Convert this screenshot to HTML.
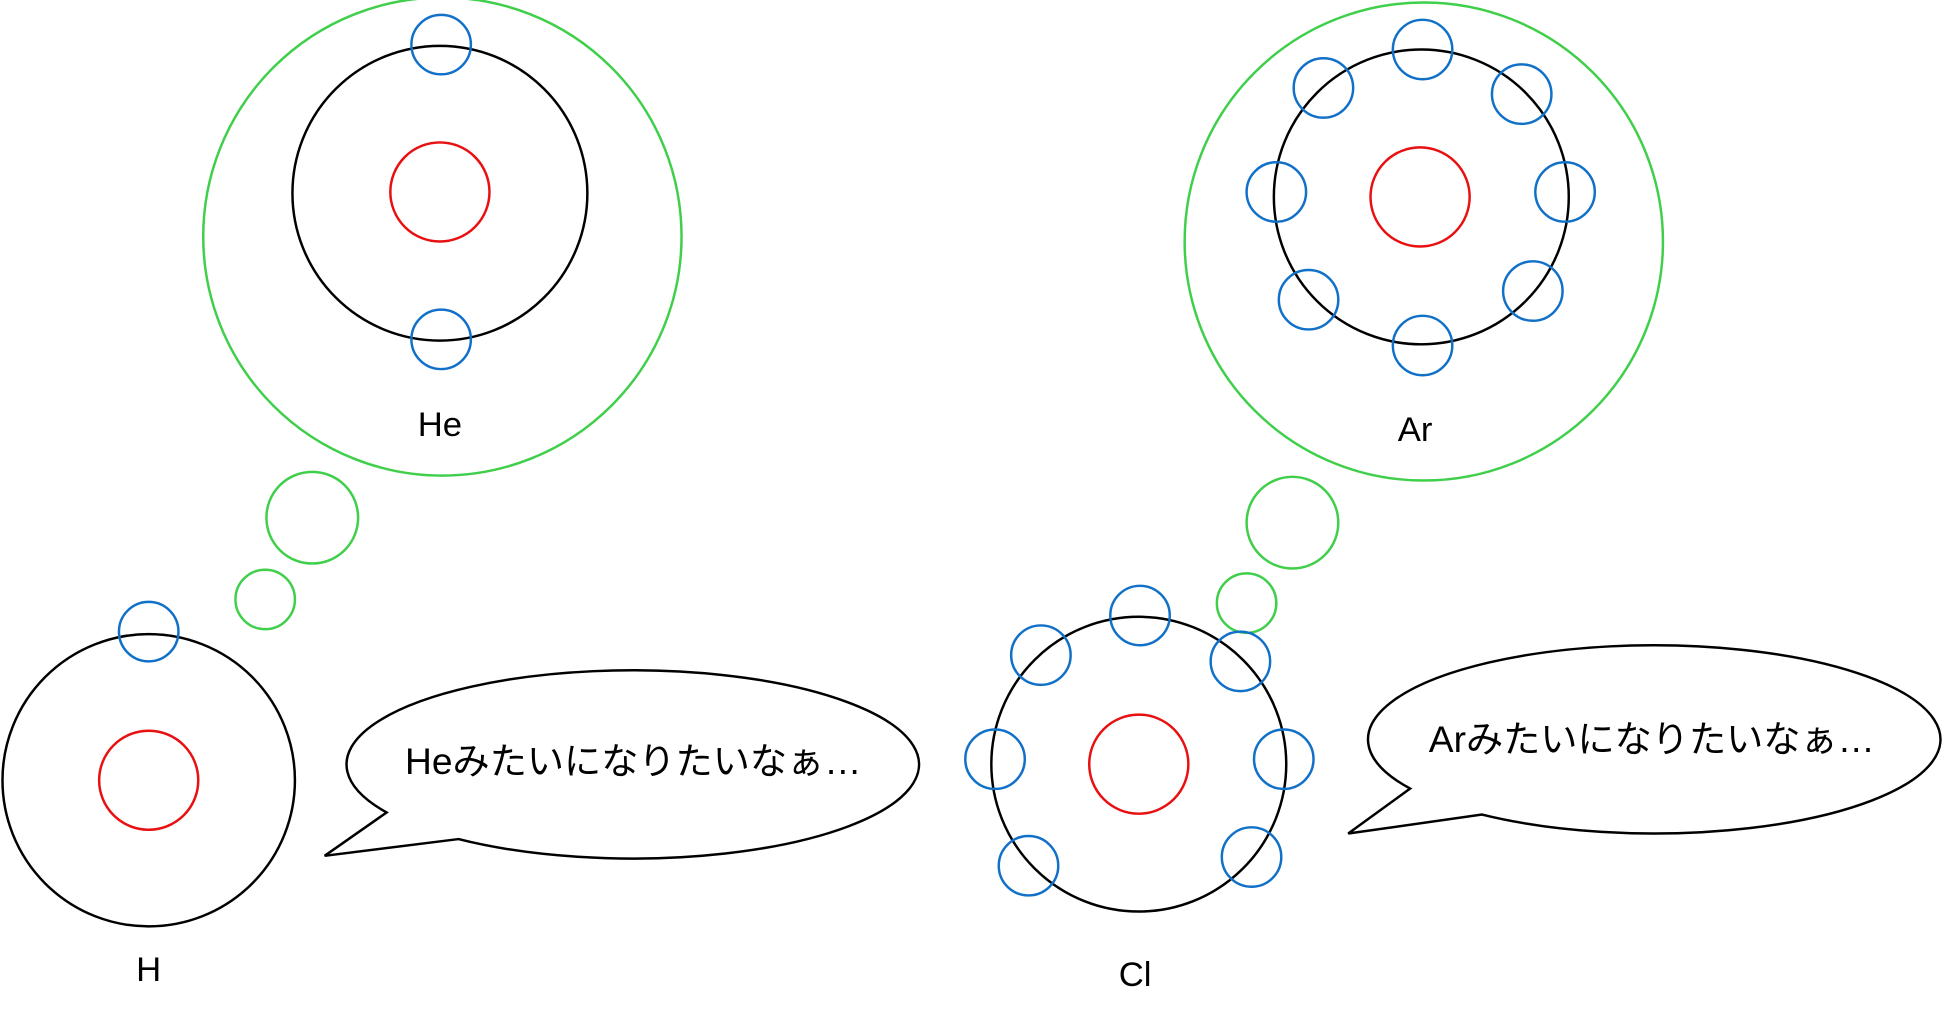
<!DOCTYPE html>
<html><head><meta charset="utf-8"><style>html,body{margin:0;padding:0;background:#fff;overflow:hidden}svg{display:block}</style></head>
<body>
<svg width="1943" height="1023" viewBox="0 0 1568 826" preserveAspectRatio="none" xmlns="http://www.w3.org/2000/svg">
<g fill="none" stroke-width="2">
<!-- He -->
<circle cx="357" cy="191" r="193" stroke="#3fcf4a"/>
<circle cx="355" cy="156" r="119" stroke="#000"/>
<circle cx="355" cy="155" r="40" stroke="#e81010"/>
<circle cx="356" cy="36" r="24" stroke="#1170c8"/>
<circle cx="356" cy="274" r="24" stroke="#1170c8"/>
<circle cx="252" cy="418" r="37" stroke="#3fcf4a"/>
<circle cx="214" cy="484" r="24" stroke="#3fcf4a"/>
<!-- H -->
<circle cx="120" cy="630" r="118" stroke="#000"/>
<circle cx="120" cy="630" r="40" stroke="#e81010"/>
<circle cx="120" cy="510" r="24" stroke="#1170c8"/>
<!-- left speech -->
<path d="M312,656 A231,76 0 1,1 370,677.5 L262,691 Z" stroke="#000"/>
<!-- Ar -->
<circle cx="1149" cy="195" r="193" stroke="#3fcf4a"/>
<circle cx="1147" cy="159" r="119" stroke="#000"/>
<circle cx="1146" cy="159" r="40" stroke="#e81010"/>
<g stroke="#1170c8">
<circle cx="1148" cy="40" r="24"/><circle cx="1068" cy="71" r="24"/><circle cx="1228" cy="76" r="24"/>
<circle cx="1030" cy="155" r="24"/><circle cx="1263" cy="155" r="24"/><circle cx="1056" cy="242" r="24"/>
<circle cx="1237" cy="235" r="24"/><circle cx="1148" cy="279" r="24"/>
</g>
<circle cx="1043" cy="422" r="37" stroke="#3fcf4a"/>
<circle cx="1006" cy="487" r="24" stroke="#3fcf4a"/>
<!-- Cl -->
<circle cx="919" cy="617" r="119" stroke="#000"/>
<circle cx="919" cy="617" r="40" stroke="#e81010"/>
<g stroke="#1170c8">
<circle cx="920" cy="497" r="24"/><circle cx="840" cy="529" r="24"/><circle cx="1001" cy="534" r="24"/>
<circle cx="803" cy="613" r="24"/><circle cx="1036" cy="613" r="24"/><circle cx="830" cy="699" r="24"/>
<circle cx="1010" cy="692" r="24"/>
</g>
<!-- right speech -->
<path d="M1138,636.7 A231,76 0 1,1 1196,657.7 L1088,673 Z" stroke="#000"/>
</g>
<g font-family="Liberation Sans, Noto Sans CJK JP, sans-serif" font-size="28" fill="#000" text-anchor="middle">
<text x="355" y="352">He</text>
<text x="120" y="792">H</text>
<text x="1142" y="356">Ar</text>
<text x="916" y="796">Cl</text>
<text x="511" y="625" font-size="30">Heみたいになりたいなぁ…</text>
<text x="1333" y="607" font-size="30">Arみたいになりたいなぁ…</text>
</g>
</svg>
</body></html>
